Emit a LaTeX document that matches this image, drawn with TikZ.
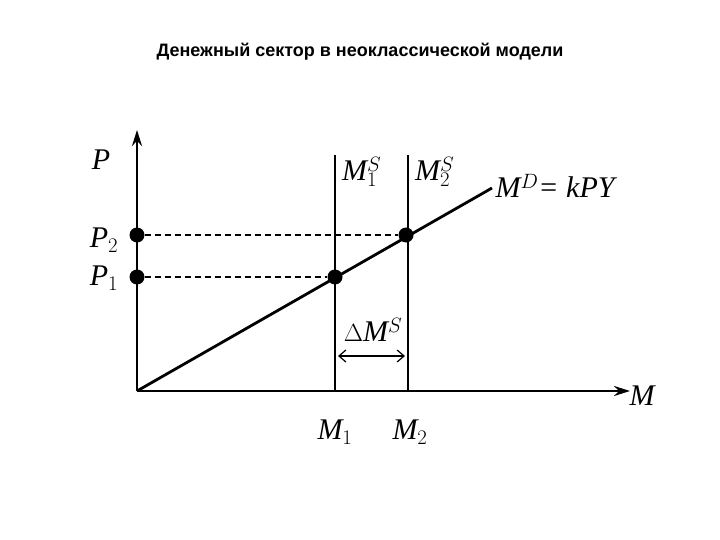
\documentclass[tikz,border=0pt]{standalone}
\usepackage{fontspec}
\setmainfont{Liberation Serif}
\newfontfamily\titlefont{Liberation Sans}
\usetikzlibrary{arrows.meta}
\begin{document}
\begin{tikzpicture}[x=1pt,y=-1pt,
  ax/.style={line width=2.4pt,-{Stealth[length=16pt,width=10pt]}},
  ln/.style={line width=2.8pt},
  dsh/.style={dash pattern=on 6pt off 4pt,line width=1.2pt},
  dot/.style={circle,fill=black,inner sep=0pt,minimum size=15pt},
  lbl/.style={font=\fontsize{30}{32}\selectfont\itshape}]
\useasboundingbox (0,0) rectangle (720,540);
\node[font=\titlefont\bfseries\fontsize{18}{20}\selectfont] (title) at (360,52) {Денежный сектор в неоклассической модели};
\coordinate (O) at (137,391);
\coordinate (Ptop) at (137,130);
\coordinate (Mend) at (630,391);
\draw[ax] (O) -- (Ptop);
\draw[ax] (O) -- (Mend);
\node[lbl] (Plab) at (101,160) {P};
\node[lbl,anchor=west] (Mlab) at (626,396) {M};
\coordinate (m1t) at (335,155); \coordinate (m1b) at (335,391);
\coordinate (m2t) at (408,155); \coordinate (m2b) at (408,391);
\draw[ln] (m1t) -- (m1b);
\draw[ln] (m2t) -- (m2b);
\coordinate (dend) at (492,188);
\draw[ln] (O) -- (dend);
\node[dot] (A) at (335,277) {};
\node[dot] (B) at (406,235) {};
\node[dot] (p1) at (137,277) {};
\node[dot] (p2) at (137,235) {};
\draw[dsh] (p1) -- (A);
\draw[dsh] (p2) -- (B);
\node[lbl] (P1) at (104,278) {P$_1$};
\node[lbl] (P2) at (104,240) {P$_2$};
\node[lbl,anchor=west,inner sep=1pt] (MS1) at (341,172) {M$_1^S$};
\node[lbl,anchor=west,inner sep=1pt] (MS2) at (414,172) {M$_2^S$};
\node[lbl,anchor=west] (MD) at (492,186) {M$^D$= kPY};
\node[lbl] (dMS) at (373,330) {$\Delta$M$^S$};
\coordinate (da) at (338,356); \coordinate (db) at (405,356);
\draw[line width=1.2pt,{Straight Barb[length=7pt,width=12pt]}-{Straight Barb[length=7pt,width=12pt]}] (da) -- (db);
\node[lbl] (M1) at (335,432) {M$_1$};
\node[lbl] (M2) at (410,432) {M$_2$};
\end{tikzpicture}
\end{document}
